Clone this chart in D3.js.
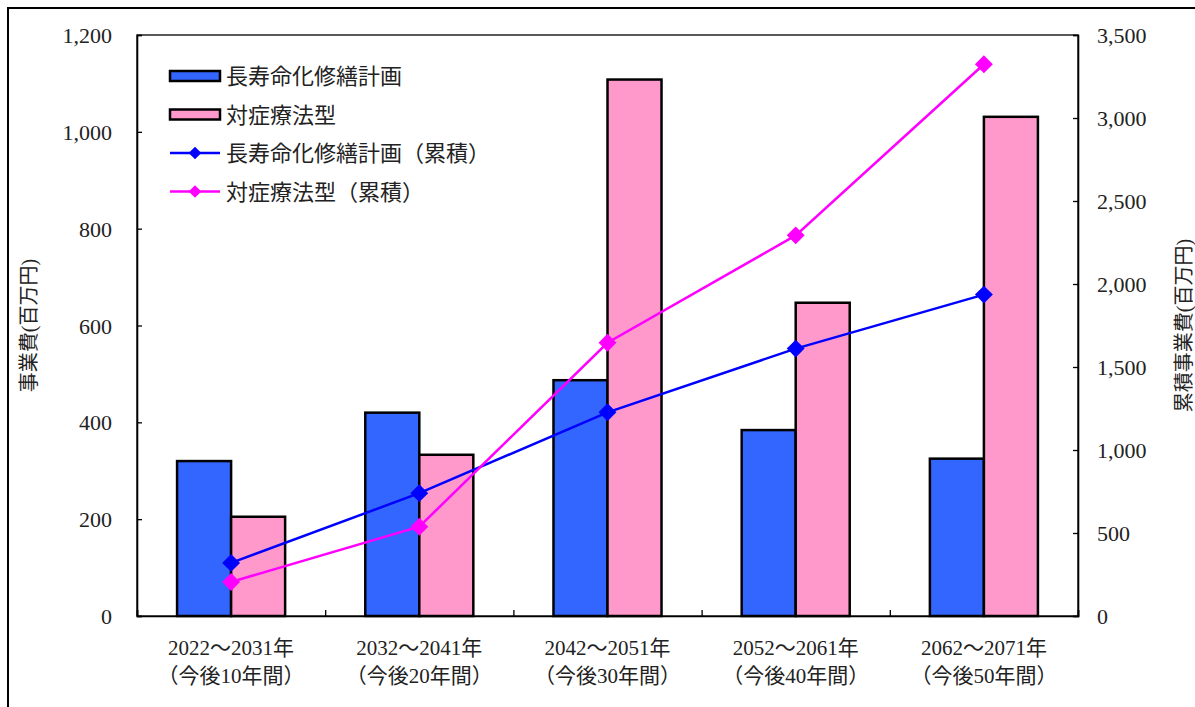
<!DOCTYPE html>
<html>
<head>
<meta charset="utf-8">
<script src="https://cdn.jsdelivr.net/npm/d3@7"></script>
<style>
  html, body { margin: 0; padding: 0; background: #fff; overflow: hidden; }
  svg { display: block; }
</style>
</head>
<body>
<div id="chart"></div>
<script>
// categories (two-line labels)
const periods = ['2022～2031年', '2032～2041年', '2042～2051年', '2052～2061年', '2062～2071年'];
const periodNotes = ['（今後10年間）', '（今後20年間）', '（今後30年間）', '（今後40年間）', '（今後50年間）'];

// bar series (left axis, 百万円)
const longLife = [320, 420, 487, 384, 325];
const reactive = [205, 333, 1108, 647, 1031];

// cumulative series (right axis, 百万円)
const longLifeCum = [320, 740, 1227, 1611, 1936];
const reactiveCum = [205, 538, 1646, 2293, 3324];

const leftTicks = [0, 200, 400, 600, 800, 1000, 1200];
const rightTicks = [0, 500, 1000, 1500, 2000, 2500, 3000, 3500];

const seriesNames = ['長寿命化修繕計画', '対症療法型', '長寿命化修繕計画（累積）', '対症療法型（累積）'];

const width = 1195;
const height = 707;
const margin = { top: 35, right: 117, bottom: 91, left: 137 };
const innerWidth = width - margin.left - margin.right;
const innerHeight = height - margin.top - margin.bottom;
const fontFamily = '"Liberation Serif", "Noto Sans CJK JP", serif';

const colors = {
  bar1: '#3366ff',
  bar2: '#ff99cc',
  line1: '#0000ff',
  line2: '#ff00ff'
};

const svg = d3.select('#chart')
  .append('svg')
  .attr('width', width)
  .attr('height', height)
  .attr('font-family', fontFamily)
  .attr('fill', '#222');

// outer frame (only top and left edges fall inside the picture)
svg.append('path')
  .attr('d', 'M8,' + height + 'V8H' + width)
  .attr('fill', 'none')
  .attr('stroke', '#000')
  .attr('stroke-width', 2);

const chart = svg.append('g')
  .attr('transform', 'translate(' + margin.left + ',' + margin.top + ')');

const x = d3.scaleBand().domain(periods).range([0, innerWidth]).padding(0);
const xSub = d3.scaleBand().domain(['a', 'b']).range([0, x.bandwidth()]).paddingInner(0).paddingOuter(0.742);
const yL = d3.scaleLinear().domain([0, 1200]).range([innerHeight, 0]);
const yR = d3.scaleLinear().domain([0, 3500]).range([innerHeight, 0]);

// plot area border
chart.append('rect')
  .attr('width', innerWidth).attr('height', innerHeight)
  .attr('fill', 'none')
  .attr('stroke', '#000')
  .attr('stroke-width', 1.3);

// axes with inward ticks
const axisL = chart.append('g')
  .call(d3.axisRight(yL).tickValues(leftTicks).tickSize(5));
const axisR = chart.append('g')
  .attr('transform', 'translate(' + innerWidth + ',0)')
  .call(d3.axisLeft(yR).tickValues(rightTicks).tickSize(5));
const xBounds = d3.scaleLinear().domain([0, periods.length]).range([0, innerWidth]);
const axisX = chart.append('g')
  .attr('transform', 'translate(0,' + innerHeight + ')')
  .call(d3.axisTop(xBounds).ticks(periods.length).tickSize(6));
[axisL, axisR, axisX].forEach((g) => {
  g.selectAll('.tick text').remove();
  g.select('.domain').attr('stroke', '#000').attr('stroke-width', 1.6);
  g.selectAll('.tick line').attr('stroke', '#000').attr('stroke-width', 1.3);
});

// tick labels
const fmt = d3.format(',');
chart.append('g').selectAll('text').data(leftTicks).join('text')
  .attr('x', -25).attr('y', (d) => yL(d) + 8)
  .attr('text-anchor', 'end').attr('font-size', 22)
  .text(fmt);
chart.append('g').selectAll('text').data(rightTicks).join('text')
  .attr('x', innerWidth + 19).attr('y', (d) => yR(d) + 8)
  .attr('text-anchor', 'start').attr('font-size', 22)
  .text(fmt);

const xl = chart.append('g').selectAll('g').data(periods).join('g')
  .attr('transform', (d) => 'translate(' + (x(d) + x.bandwidth() / 2) + ',' + innerHeight + ')');
xl.append('text')
  .attr('y', 39).attr('text-anchor', 'middle')
  .attr('font-size', 21).text((d) => d);
xl.append('text')
  .attr('y', 67).attr('text-anchor', 'middle')
  .attr('font-size', 21).text((d, i) => periodNotes[i]);

// axis titles
svg.append('text')
  .attr('transform', 'translate(36,' + (margin.top + innerHeight / 2) + ') rotate(-90)')
  .attr('text-anchor', 'middle')
  .attr('font-size', 20).text('事業費(百万円)');
svg.append('text')
  .attr('transform', 'translate(1191,' + (margin.top + innerHeight / 2) + ') rotate(-90)')
  .attr('text-anchor', 'middle')
  .attr('font-size', 20).text('累積事業費(百万円)');

// bars
const barSets = [
  { key: 'a', values: longLife, color: colors.bar1 },
  { key: 'b', values: reactive, color: colors.bar2 }
];
barSets.forEach((s) => {
  chart.append('g').selectAll('rect').data(periods).join('rect')
    .attr('x', (d) => x(d) + xSub(s.key))
    .attr('y', (d, i) => yL(s.values[i]))
    .attr('width', xSub.bandwidth())
    .attr('height', (d, i) => innerHeight - yL(s.values[i]))
    .attr('fill', s.color)
    .attr('stroke', '#000')
    .attr('stroke-width', 2.5);
});

// cumulative lines with square-diamond markers
const marker = d3.symbol().type(d3.symbolSquare).size(160);
const legendMarker = d3.symbol().type(d3.symbolSquare).size(80);
const lineSets = [
  { values: longLifeCum, color: colors.line1 },
  { values: reactiveCum, color: colors.line2 }
];
lineSets.forEach((s) => {
  const pts = periods.map((d, i) => [x(d) + x.bandwidth() / 2, yR(s.values[i])]);
  chart.append('path')
    .attr('d', d3.line()(pts))
    .attr('fill', 'none')
    .attr('stroke', s.color)
    .attr('stroke-width', 2.5);
  chart.append('g').selectAll('path').data(pts).join('path')
    .attr('transform', (p) => 'translate(' + p[0] + ',' + p[1] + ') rotate(45)')
    .attr('d', marker)
    .attr('fill', s.color);
});

// legend
const legend = svg.append('g').attr('transform', 'translate(170,76)');
seriesNames.forEach((name, i) => {
  const g = legend.append('g').attr('transform', 'translate(0,' + (i * 38.5) + ')');
  if (i < 2) {
    g.append('rect')
      .attr('x', 0).attr('y', -5).attr('width', 50).attr('height', 10)
      .attr('fill', i === 0 ? colors.bar1 : colors.bar2)
      .attr('stroke', '#000').attr('stroke-width', 2.5);
  } else {
    const c = i === 2 ? colors.line1 : colors.line2;
    g.append('line')
      .attr('x1', 0).attr('x2', 50).attr('y1', 0).attr('y2', 0)
      .attr('stroke', c).attr('stroke-width', 2.5);
    g.append('path')
      .attr('transform', 'translate(25,0) rotate(45)')
      .attr('d', legendMarker)
      .attr('fill', c);
  }
  g.append('text')
    .attr('x', 56).attr('y', 8)
    .attr('font-size', 22)
    .text(name);
});
</script>
</body>
</html>
